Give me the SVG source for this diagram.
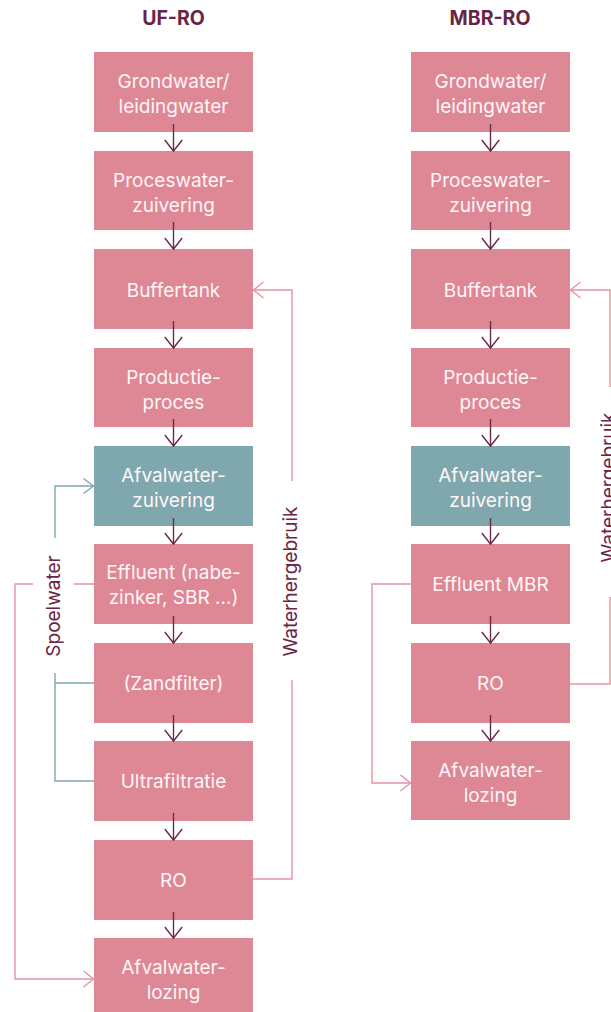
<svg xmlns="http://www.w3.org/2000/svg" width="611" height="1012" viewBox="0 0 611 1012">
<style>
.box{fill:#de8795}
.teal{fill:#7fa8ae}
.t{font-family:Inter,"Liberation Sans",sans-serif;font-size:19px;fill:#fff6f7;text-anchor:middle}
.h{font-family:Inter,"Liberation Sans",sans-serif;font-size:19.5px;font-weight:700;fill:#6a2444;text-anchor:middle}
.lbl{font-family:Inter,"Liberation Sans",sans-serif;font-size:19px;fill:#6a2444;text-anchor:middle}
.ad{fill:none;stroke:#6b2a4a;stroke-width:1.4;marker-end:url(#md)}
.cp{fill:none;stroke:#e594a3;stroke-width:1.4}
.ct{fill:none;stroke:#7fa8ae;stroke-width:1.4}
</style>
<defs>
<marker id="md" viewBox="-12 -10 14 20" refX="0" refY="0" markerWidth="14" markerHeight="20" markerUnits="userSpaceOnUse" orient="auto"><path d="M-11,-8.7 L0,0 L-11,8.7" fill="none" stroke="#6b2a4a" stroke-width="1.4"/></marker>
<marker id="mp" viewBox="-12 -10 14 20" refX="0" refY="0" markerWidth="14" markerHeight="20" markerUnits="userSpaceOnUse" orient="auto"><path d="M-10,-8 L0,0 L-10,8" fill="none" stroke="#e594a3" stroke-width="1.4"/></marker>
<marker id="mt" viewBox="-12 -10 14 20" refX="0" refY="0" markerWidth="14" markerHeight="20" markerUnits="userSpaceOnUse" orient="auto"><path d="M-10,-7.5 L0,0 L-10,7.5" fill="none" stroke="#7fa8ae" stroke-width="1.4"/></marker>
</defs>

<text class="h" x="173.5" y="25">UF-RO</text>
<text class="h" x="490" y="25">MBR-RO</text>

<g id="L1"><rect class="box" x="94" y="52" width="159" height="80"/><text class="t" x="173.5" y="88">Grondwater/</text><text class="t" x="173.5" y="113">leidingwater</text></g>
<g id="L2"><rect class="box" x="94" y="151" width="159" height="79"/><text class="t" x="173.5" y="187">Proceswater-</text><text class="t" x="173.5" y="212">zuivering</text></g>
<g id="L3"><rect class="box" x="94" y="249" width="159" height="80"/><text class="t" x="173.5" y="296.5">Buffertank</text></g>
<g id="L4"><rect class="box" x="94" y="348" width="159" height="79"/><text class="t" x="173.5" y="384">Productie-</text><text class="t" x="173.5" y="409">proces</text></g>
<g id="L5"><rect class="teal" x="94" y="446" width="159" height="80"/><text class="t" x="173.5" y="481.5">Afvalwater-</text><text class="t" x="173.5" y="506.5">zuivering</text></g>
<g id="L6"><rect class="box" x="94" y="544" width="159" height="80"/><text class="t" x="173.5" y="579">Effluent (nabe-</text><text class="t" x="173.5" y="604">zinker, SBR …)</text></g>
<g id="L7"><rect class="box" x="94" y="643" width="159" height="80"/><text class="t" x="173.5" y="690">(Zandfilter)</text></g>
<g id="L8"><rect class="box" x="94" y="741" width="159" height="80"/><text class="t" x="173.5" y="788">Ultrafiltratie</text></g>
<g id="L9"><rect class="box" x="94" y="840" width="159" height="80"/><text class="t" x="173.5" y="887">RO</text></g>
<g id="L10"><rect class="box" x="94" y="938" width="159" height="80"/><text class="t" x="173.5" y="973.5">Afvalwater-</text><text class="t" x="173.5" y="998.5">lozing</text></g>

<g id="R1"><rect class="box" x="411" y="52" width="159" height="80"/><text class="t" x="490.5" y="88">Grondwater/</text><text class="t" x="490.5" y="113">leidingwater</text></g>
<g id="R2"><rect class="box" x="411" y="151" width="159" height="79"/><text class="t" x="490.5" y="187">Proceswater-</text><text class="t" x="490.5" y="212">zuivering</text></g>
<g id="R3"><rect class="box" x="411" y="249" width="159" height="80"/><text class="t" x="490.5" y="296.5">Buffertank</text></g>
<g id="R4"><rect class="box" x="411" y="348" width="159" height="79"/><text class="t" x="490.5" y="384">Productie-</text><text class="t" x="490.5" y="409">proces</text></g>
<g id="R5"><rect class="teal" x="411" y="446" width="159" height="80"/><text class="t" x="490.5" y="481.5">Afvalwater-</text><text class="t" x="490.5" y="506.5">zuivering</text></g>
<g id="R6"><rect class="box" x="411" y="544" width="159" height="80"/><text class="t" x="490.5" y="591">Effluent MBR</text></g>
<g id="R7"><rect class="box" x="411" y="643" width="159" height="80"/><text class="t" x="490.5" y="690">RO</text></g>
<g id="R8"><rect class="box" x="411" y="741" width="159" height="79"/><text class="t" x="490.5" y="776.5">Afvalwater-</text><text class="t" x="490.5" y="801.5">lozing</text></g>

<g id="connectors">
<path class="ad" d="M173.5,124 V151"/>
<path class="ad" d="M173.5,222 V249"/>
<path class="ad" d="M173.5,321 V348"/>
<path class="ad" d="M173.5,419 V446"/>
<path class="ad" d="M173.5,518 V544"/>
<path class="ad" d="M173.5,616 V643"/>
<path class="ad" d="M173.5,715 V741"/>
<path class="ad" d="M173.5,813 V840"/>
<path class="ad" d="M173.5,912 V938"/>
<path class="ad" d="M490.5,124 V151"/>
<path class="ad" d="M490.5,222 V249"/>
<path class="ad" d="M490.5,321 V348"/>
<path class="ad" d="M490.5,419 V446"/>
<path class="ad" d="M490.5,518 V544"/>
<path class="ad" d="M490.5,616 V643"/>
<path class="ad" d="M490.5,715 V741"/>

<path class="ct" d="M55,538 V486 H93.5" marker-end="url(#mt)"/>
<path class="ct" d="M94,683 H55 V673 M55,683 V781 H94"/>
<text class="lbl" transform="translate(60,606) rotate(-90)">Spoelwater</text>

<path class="cp" d="M94,584 H74 M33,584 H15 V979 H93.5" marker-end="url(#mp)"/>
<path class="cp" d="M253,879 H292 V680 M292,481 V290 H253.5" marker-end="url(#mp)"/>
<text class="lbl" transform="translate(297,581.5) rotate(-90)">Waterhergebruik</text>

<path class="cp" d="M411,584 H372 V783 H410.5" marker-end="url(#mp)"/>
<path class="cp" d="M570,684 H610 V597 M610,387 V290 H570.5" marker-end="url(#mp)"/>
<text class="lbl" transform="translate(615,487.5) rotate(-90)">Waterhergebruik</text>
</g>
</svg>
